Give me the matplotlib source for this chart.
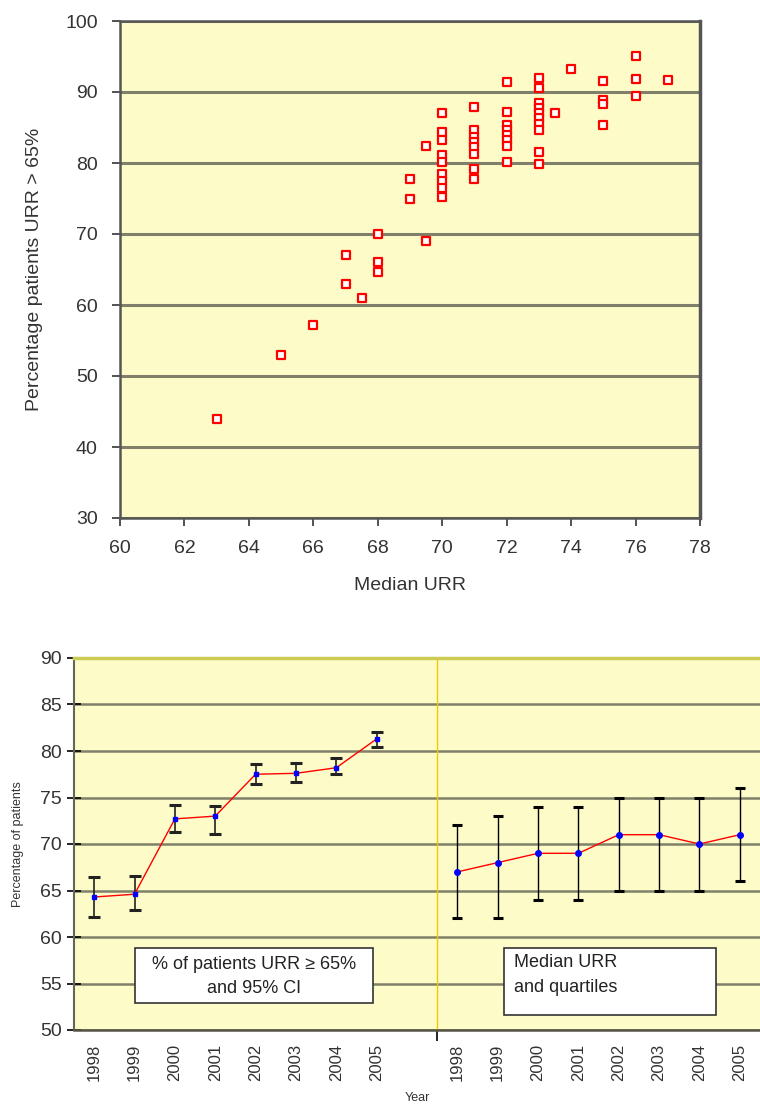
import numpy as np
import matplotlib.pyplot as plt
from matplotlib.patches import Rectangle
from matplotlib.markers import MarkerStyle

plt.rcParams['font.family'] = ['Liberation Sans', 'DejaVu Sans']

# scatter: centre median URR vs percentage of patients URR > 65%
median_urr = [63, 65, 66, 67, 67, 67.5, 68, 68, 68, 69, 69, 69.5, 69.5,
              70, 70, 70, 70, 70, 70, 70, 70, 70,
              71, 71, 71, 71, 71, 71, 71, 71,
              72, 72, 72, 72, 72, 72, 72, 72,
              73, 73, 73, 73, 73, 73, 73, 73, 73, 73,
              73.5, 74, 75, 75, 75, 75, 76, 76, 76, 77]
pct_urr65 = [44, 53, 57.2, 67, 63, 61, 70, 66, 64.6, 77.7, 74.9, 82.4, 69,
             87.1, 84.4, 83.2, 81.1, 80.1, 78.5, 77.4, 76.5, 75.2,
             87.9, 84.7, 83.7, 83.0, 82.3, 81.3, 79.1, 77.7,
             91.4, 87.2, 85.3, 84.6, 83.9, 83.2, 82.4, 80.1,
             92.0, 90.6, 88.5, 87.8, 87.0, 86.3, 85.5, 84.6, 81.5, 79.9,
             87.1, 93.2, 91.6, 88.9, 88.3, 85.4, 95.1, 91.9, 89.5, 91.7]

# trend by year
years = ['1998', '1999', '2000', '2001', '2002', '2003', '2004', '2005']
pct_mean = [64.3, 64.6, 72.7, 73.0, 77.5, 77.6, 78.2, 81.3]
pct_lo = [62.2, 62.9, 71.3, 71.1, 76.4, 76.7, 77.5, 80.4]
pct_hi = [66.4, 66.6, 74.2, 74.1, 78.6, 78.7, 79.3, 82.0]
med = [67, 68, 69, 69, 71, 71, 70, 71]
q1 = [62, 62, 64, 64, 65, 65, 65, 66]
q3 = [72, 73, 74, 74, 75, 75, 75, 76]

bg = '#fdfcc9'
gridc = '#7f7f6a'

fig = plt.figure(figsize=(7.6, 11.1), dpi=100)

# ---- top scatter ----
ax1 = fig.add_axes([120/760, 1 - 518/1110, 580/760, 497/1110])
ax1.set_facecolor(bg)
sq = MarkerStyle('s', joinstyle='round')
ax1.plot(median_urr, pct_urr65, linestyle='none', marker=sq, ms=5.8, mfc='white',
         mec='red', mew=1.6, zorder=3)
ax1.set_xlim(60, 78)
ax1.set_ylim(30, 100)
ax1.set_xticks(np.arange(60, 79, 2))
ax1.set_yticks(np.arange(30, 101, 10))
ax1.yaxis.grid(True, color=gridc, lw=2.2)
ax1.set_axisbelow(True)
for s in ax1.spines.values():
    s.set_color('#555555')
    s.set_linewidth(1.8)
ax1.spines['right'].set_linewidth(2.5)
ax1.tick_params(direction='out', length=6, width=1.3, color='#444444',
                labelsize=14, labelcolor='#333333', pad=10)
ax1.set_xlabel('Median URR', fontsize=14, color='#333333', labelpad=14)
ax1.set_ylabel('Percentage patients URR > 65%', fontsize=14, color='#333333', labelpad=16)

# ---- bottom trend ----
ax2 = fig.add_axes([74/760, 80/1110, 686/760, 372/1110])
ax2.set_facecolor(bg)
xl = np.arange(len(years))
xr = xl + 9
lo_err = np.array(pct_mean) - np.array(pct_lo)
hi_err = np.array(pct_hi) - np.array(pct_mean)
ax2.errorbar(xl, pct_mean, yerr=[lo_err, hi_err], fmt='none', ecolor='#222222',
             elinewidth=1.2, capsize=4, capthick=2.2, zorder=3)
ax2.plot(xl, pct_mean, '-', color='red', lw=1.0, zorder=4)
ax2.plot(xl, pct_mean, 's', color='blue', ms=3.5, zorder=5)
m_lo = np.array(med) - np.array(q1)
m_hi = np.array(q3) - np.array(med)
ax2.errorbar(xr, med, yerr=[m_lo, m_hi], fmt='none', ecolor='black',
             elinewidth=1.0, capsize=3.5, capthick=2.2, zorder=3)
ax2.plot(xr, med, '-', color='red', lw=1.0, zorder=4)
ax2.plot(xr, med, 'o', color='blue', ms=4, zorder=5)
ax2.axvline(8.5, color='#f0c800', lw=1.0, zorder=2)

ax2.set_xlim(-0.5, 16.5)
ax2.set_ylim(50, 90)
ax2.set_yticks(np.arange(50, 91, 5))
ax2.set_xticks(np.concatenate([xl, xr]))
ax2.set_xticklabels(years + years, rotation=90, fontsize=12, color='#333333')
ax2.set_xticks([8.5], minor=True)
ax2.tick_params(axis='x', which='major', length=0, pad=10)
ax2.tick_params(axis='x', which='minor', length=8, width=1.2, direction='out')
ax2.tick_params(axis='y', direction='inout', length=10, width=1.2,
                labelsize=14, labelcolor='#333333')
ax2.yaxis.grid(True, color=gridc, lw=1.8)
ax2.set_axisbelow(True)
ax2.spines['top'].set_color('#cccc55')
ax2.spines['top'].set_linewidth(2.5)
ax2.spines['right'].set_visible(False)
ax2.spines['left'].set_color('#666655')
ax2.spines['left'].set_linewidth(1.5)
ax2.spines['bottom'].set_color('#555544')
ax2.spines['bottom'].set_linewidth(1.8)
ax2.set_ylabel('Percentage of patients', fontsize=9, color='#333333', labelpad=12)
ax2.set_xlabel('Year', fontsize=9, color='#333333', labelpad=8)

ax2.add_patch(Rectangle((1.0, 52.9), 5.9, 5.9, fc='white', ec='#333333', lw=1.2, zorder=6))
ax2.text(3.95, 55.75, '% of patients URR ≥ 65%\nand 95% CI', ha='center', va='center',
         fontsize=13, color='#222222', linespacing=1.6, zorder=7)
ax2.add_patch(Rectangle((10.15, 51.6), 5.25, 7.2, fc='white', ec='#333333', lw=1.2, zorder=6))
ax2.text(10.4, 55.9, 'Median URR\nand quartiles', ha='left', va='center',
         fontsize=13, color='#222222', linespacing=1.6, zorder=7)

fig.savefig('out.png', dpi=100)
